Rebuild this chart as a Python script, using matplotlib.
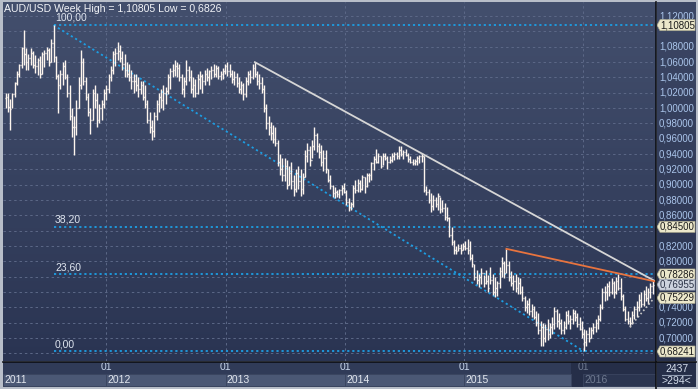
import datetime as dt
import numpy as np
import matplotlib
matplotlib.use("Agg")
import matplotlib.pyplot as plt
import matplotlib.dates as mdates
from matplotlib.colors import LinearSegmentedColormap
from matplotlib.patches import Polygon, Rectangle
from matplotlib.lines import Line2D

plt.rcParams['font.family'] = ['Liberation Sans', 'DejaVu Sans']

# weekly AUD/USD bars, first bar = week of 2011-02-27
start = dt.date(2011, 2, 27)
first_open = 1.013
highs = [
    1.019, 1.020, 1.012, 1.020, 1.034, 1.048, 1.058, 1.080, 1.102, 1.078,   # 0
    1.070, 1.078, 1.075, 1.069, 1.065, 1.068, 1.073, 1.076, 1.080, 1.078,   # 10
    1.090, 1.10805, 1.068, 1.045, 1.050, 1.060, 1.062, 1.045, 1.030, 1.000,  # 20
    0.990, 1.010, 1.040, 1.0752, 1.065, 1.040, 1.020, 1.000, 1.025, 1.030,  # 30
    1.020, 1.005, 1.010, 1.025, 1.030, 1.045, 1.055, 1.075, 1.078, 1.0856,  # 40
    1.082, 1.075, 1.070, 1.060, 1.058, 1.050, 1.045, 1.045, 1.040, 1.035,   # 50
    1.035, 1.030, 1.010, 0.995, 0.985, 0.995, 1.010, 1.020, 1.025, 1.030,   # 60
    1.028, 1.045, 1.052, 1.058, 1.062, 1.060, 1.058, 1.045, 1.040, 1.063,   # 70
    1.055, 1.050, 1.040, 1.038, 1.045, 1.048, 1.045, 1.050, 1.052, 1.050,   # 80
    1.055, 1.058, 1.056, 1.055, 1.048, 1.052, 1.058, 1.060, 1.058, 1.050,   # 90
    1.048, 1.046, 1.040, 1.035, 1.032, 1.040, 1.048, 1.050, 1.058, 1.0598,  # 100
    1.048, 1.045, 1.040, 1.030, 1.005, 0.990, 0.982, 0.978, 0.975, 0.958,   # 110
    0.940, 0.935, 0.935, 0.932, 0.925, 0.930, 0.912, 0.920, 0.925, 0.920,   # 120
    0.915, 0.945, 0.955, 0.950, 0.958, 0.9758, 0.968, 0.955, 0.952, 0.945,  # 130
    0.945, 0.920, 0.913, 0.899, 0.897, 0.893, 0.895, 0.900, 0.902, 0.893,   # 140
    0.882, 0.878, 0.900, 0.906, 0.908, 0.906, 0.913, 0.910, 0.915, 0.915,   # 150
    0.930, 0.937, 0.946, 0.941, 0.937, 0.941, 0.941, 0.937, 0.937, 0.941,   # 160
    0.943, 0.943, 0.950, 0.950, 0.945, 0.947, 0.941, 0.937, 0.934, 0.934,   # 170
    0.937, 0.939, 0.941, 0.937, 0.898, 0.895, 0.889, 0.886, 0.884, 0.889,   # 180
    0.884, 0.880, 0.876, 0.871, 0.858, 0.845, 0.828, 0.820, 0.822, 0.822,   # 190
    0.824, 0.826, 0.829, 0.826, 0.810, 0.797, 0.789, 0.784, 0.791, 0.782,   # 200
    0.789, 0.782, 0.793, 0.784, 0.780, 0.775, 0.792, 0.806, 0.800, 0.8163,  # 210
    0.800, 0.787, 0.782, 0.784, 0.780, 0.778, 0.768, 0.755, 0.750, 0.752,   # 220
    0.745, 0.742, 0.735, 0.732, 0.722, 0.720, 0.718, 0.725, 0.720, 0.728,   # 230
    0.740, 0.738, 0.732, 0.725, 0.722, 0.735, 0.737, 0.730, 0.738, 0.736,   # 240
    0.733, 0.728, 0.722, 0.712, 0.710, 0.715, 0.715, 0.720, 0.725, 0.730,   # 250
    0.745, 0.765, 0.768, 0.772, 0.775, 0.778, 0.775, 0.780, 0.7835, 0.778,  # 260
    0.758, 0.742, 0.735, 0.728, 0.735, 0.742, 0.748, 0.758, 0.760, 0.762,   # 270
    0.768, 0.765, 0.772, 0.774,                                             # 280
]
lows = [
    1.000, 0.995, 0.971, 1.000, 1.015, 1.030, 1.040, 1.052, 1.056, 1.050,
    1.050, 1.056, 1.052, 1.046, 1.043, 1.039, 1.045, 1.054, 1.062, 1.055,
    1.060, 1.060, 1.038, 0.993, 1.025, 1.030, 1.038, 1.015, 0.985, 0.962,
    0.9387, 0.965, 1.000, 1.025, 1.030, 1.010, 0.990, 0.966, 0.985, 1.000,
    0.975, 0.980, 0.985, 1.000, 1.010, 1.020, 1.035, 1.045, 1.055, 1.062,
    1.060, 1.050, 1.040, 1.040, 1.035, 1.025, 1.020, 1.022, 1.015, 1.018,
    1.010, 1.000, 0.980, 0.968, 0.958, 0.962, 0.985, 0.995, 1.000, 0.997,
    1.005, 1.018, 1.025, 1.040, 1.042, 1.040, 1.035, 1.018, 1.015, 1.030,
    1.035, 1.020, 1.015, 1.015, 1.018, 1.025, 1.020, 1.030, 1.035, 1.030,
    1.038, 1.040, 1.040, 1.038, 1.036, 1.038, 1.045, 1.042, 1.040, 1.032,
    1.030, 1.028, 1.020, 1.018, 1.011, 1.015, 1.030, 1.032, 1.038, 1.040,
    1.030, 1.025, 1.020, 0.995, 0.972, 0.965, 0.958, 0.955, 0.950, 0.925,
    0.912, 0.905, 0.905, 0.895, 0.900, 0.895, 0.8848, 0.890, 0.895, 0.885,
    0.888, 0.910, 0.930, 0.925, 0.935, 0.945, 0.942, 0.935, 0.925, 0.918,
    0.915, 0.903, 0.895, 0.884, 0.882, 0.884, 0.882, 0.886, 0.889, 0.873,
    0.866, 0.867, 0.871, 0.889, 0.891, 0.891, 0.893, 0.889, 0.897, 0.904,
    0.906, 0.919, 0.928, 0.928, 0.922, 0.926, 0.932, 0.921, 0.928, 0.930,
    0.932, 0.934, 0.934, 0.937, 0.934, 0.937, 0.930, 0.928, 0.926, 0.926,
    0.926, 0.928, 0.930, 0.891, 0.886, 0.876, 0.865, 0.867, 0.871, 0.867,
    0.863, 0.865, 0.854, 0.852, 0.832, 0.821, 0.810, 0.810, 0.813, 0.810,
    0.815, 0.815, 0.810, 0.802, 0.793, 0.776, 0.771, 0.767, 0.771, 0.767,
    0.771, 0.760, 0.771, 0.756, 0.754, 0.755, 0.765, 0.780, 0.778, 0.785,
    0.775, 0.768, 0.763, 0.760, 0.758, 0.757, 0.748, 0.735, 0.732, 0.730,
    0.728, 0.725, 0.716, 0.705, 0.690, 0.6896, 0.695, 0.698, 0.700, 0.705,
    0.712, 0.715, 0.712, 0.705, 0.705, 0.712, 0.718, 0.712, 0.718, 0.722,
    0.715, 0.710, 0.700, 0.68241, 0.690, 0.695, 0.700, 0.705, 0.708, 0.712,
    0.722, 0.738, 0.748, 0.750, 0.755, 0.758, 0.752, 0.758, 0.762, 0.750,
    0.735, 0.722, 0.718, 0.7145, 0.718, 0.725, 0.728, 0.735, 0.740, 0.742,
    0.748, 0.745, 0.752, 0.758,
]
closes = [
    1.015, 1.001, 0.999, 1.018, 1.033, 1.045, 1.056, 1.078, 1.070, 1.060,
    1.065, 1.072, 1.056, 1.055, 1.062, 1.045, 1.070, 1.072, 1.076, 1.060,
    1.085, 1.066, 1.042, 1.030, 1.045, 1.055, 1.040, 1.020, 0.990, 0.975,
    0.975, 1.000, 1.030, 1.060, 1.035, 1.015, 0.995, 0.985, 1.020, 1.010,
    0.985, 1.000, 1.005, 1.020, 1.025, 1.040, 1.050, 1.070, 1.072, 1.075,
    1.065, 1.058, 1.050, 1.045, 1.040, 1.035, 1.035, 1.030, 1.025, 1.030,
    1.015, 1.005, 0.985, 0.975, 0.970, 0.990, 1.005, 1.015, 1.010, 1.020,
    1.022, 1.040, 1.048, 1.050, 1.055, 1.052, 1.040, 1.025, 1.035, 1.050,
    1.040, 1.025, 1.030, 1.020, 1.038, 1.042, 1.035, 1.045, 1.040, 1.048,
    1.050, 1.045, 1.052, 1.042, 1.045, 1.048, 1.055, 1.048, 1.045, 1.038,
    1.040, 1.032, 1.025, 1.030, 1.018, 1.035, 1.045, 1.040, 1.052, 1.045,
    1.035, 1.032, 1.025, 1.000, 0.980, 0.975, 0.968, 0.960, 0.955, 0.930,
    0.920, 0.912, 0.925, 0.900, 0.915, 0.905, 0.895, 0.915, 0.905, 0.895,
    0.910, 0.938, 0.945, 0.932, 0.950, 0.965, 0.950, 0.942, 0.930, 0.935,
    0.920, 0.906, 0.898, 0.889, 0.890, 0.888, 0.893, 0.896, 0.891, 0.878,
    0.871, 0.875, 0.896, 0.893, 0.902, 0.895, 0.910, 0.898, 0.912, 0.913,
    0.928, 0.934, 0.930, 0.938, 0.925, 0.938, 0.935, 0.930, 0.932, 0.938,
    0.940, 0.937, 0.945, 0.940, 0.942, 0.939, 0.933, 0.930, 0.928, 0.931,
    0.935, 0.937, 0.938, 0.893, 0.890, 0.880, 0.872, 0.880, 0.875, 0.885,
    0.868, 0.870, 0.858, 0.856, 0.835, 0.825, 0.815, 0.813, 0.818, 0.815,
    0.820, 0.818, 0.815, 0.805, 0.797, 0.780, 0.776, 0.780, 0.785, 0.772,
    0.775, 0.765, 0.776, 0.760, 0.765, 0.772, 0.788, 0.798, 0.785, 0.795,
    0.780, 0.772, 0.775, 0.765, 0.772, 0.760, 0.752, 0.740, 0.745, 0.735,
    0.738, 0.728, 0.720, 0.710, 0.715, 0.700, 0.712, 0.705, 0.715, 0.718,
    0.735, 0.722, 0.720, 0.710, 0.715, 0.730, 0.722, 0.725, 0.732, 0.728,
    0.718, 0.712, 0.705, 0.695, 0.705, 0.700, 0.710, 0.715, 0.720, 0.725,
    0.740, 0.760, 0.760, 0.768, 0.760, 0.772, 0.760, 0.775, 0.765, 0.755,
    0.738, 0.725, 0.722, 0.720, 0.730, 0.738, 0.740, 0.750, 0.745, 0.758,
    0.752, 0.760, 0.768, 0.76955,
]

# drawn objects on the chart
fib_ratios = [0.0, 0.236, 0.382, 1.0]
fib_names = ['0,00', '23,60', '38,20', '100,00']
white_line = (109, 0.7735)     # from high of bar 109 to right edge value
orange_line = (219, 0.7735)    # from high of bar 219 to right edge value
dotted_line = (273, 0.7500)    # from low of bar 273 to last bar
dotted_tag = 0.75229
years = [2011, 2012, 2013, 2014, 2015, 2016]
title = 'AUD/USD Week High = 1,10805 Low = 0,6826'

dates = [start + dt.timedelta(weeks=i) for i in range(len(closes))]
x = mdates.date2num(dates)
opens = [first_open] + closes[:-1]

W, H = 698, 389
fig = plt.figure(figsize=(W / 100, H / 100), dpi=100, facecolor='#b8bec9')


def px(l, t, r, b):
    return [l / W, 1 - b / H, (r - l) / W, (b - t) / H]


def gradient(ax, top, bottom):
    cm = LinearSegmentedColormap.from_list('g', [bottom, top])
    g = np.linspace(0, 1, 256).reshape(-1, 1)
    ax.imshow(g, extent=[0, 1, 0, 1], transform=ax.transAxes, aspect='auto',
              cmap=cm, origin='lower', zorder=0)


ylo, yhi = 0.6700, 1.1383
xl = mdates.date2num(dt.date(2011, 2, 19))
xr = mdates.date2num(dt.date(2016, 8, 10))

ax = fig.add_axes(px(3, 2, 656, 361))
gradient(ax, '#434f6d', '#2a3452')
ax.set_xlim(xl, xr)
ax.set_ylim(ylo, yhi)
ax.set_xticks([])
ax.set_yticks([])
for s in ax.spines.values():
    s.set_visible(False)

grid_c = '#5c6887'
for p in np.arange(0.68, 1.1201, 0.02):
    ax.axhline(p, color=grid_c, lw=0.7, ls=(0, (2.5, 3)), zorder=1)
for yr in years[1:]:
    ax.axvline(mdates.date2num(dt.date(yr, 1, 1)), color=grid_c, lw=0.7,
               ls=(0, (2.5, 3)), zorder=1)

# OHLC bars
bar_c = '#fdf5ee'
ax.vlines(x, lows, highs, color=bar_c, lw=1.0, zorder=4)
ax.hlines(opens, x - 2.6, x, color=bar_c, lw=1.0, zorder=4)
ax.hlines(closes, x, x + 2.6, color=bar_c, lw=1.0, zorder=4)

# fibonacci
hi_i = int(np.argmax(highs))
lo_i = int(np.argmin(lows))
hi, lo = highs[hi_i], lows[lo_i]
fib_c = '#1d9ee3'
fib_ls = (0, (1.2, 1.6))
for r, name in zip(fib_ratios, fib_names):
    lev = lo + r * (hi - lo)
    ax.plot([x[hi_i], xr], [lev, lev], color=fib_c, lw=1.3, ls=fib_ls, zorder=3)
    ax.text(x[hi_i] + 4, lev + 0.003, name, color='#dfe5ef', fontsize=7.5,
            va='bottom', ha='left', zorder=5)
ax.plot([x[hi_i], x[lo_i]], [hi, lo], color=fib_c, lw=1.3, ls=fib_ls, zorder=3)

# trend lines
i0, v1 = white_line
ax.plot([x[i0], xr], [highs[i0], v1], color='#d6d6d6', lw=1.3, zorder=5)
i0, v1 = orange_line
ax.plot([x[i0], xr], [highs[i0], v1], color='#e8743f', lw=1.3, zorder=5)
i0, v1 = dotted_line
ax.plot([x[i0], x[-1]], [lows[i0], v1], color='#c8c8c8', lw=1.2,
        ls=(0, (1, 1.5)), zorder=5)

fig.text(4 / W, 1 - 9 / H, title, color='#f2f4f8', fontsize=7.6, va='center')

# right price scale
axr = fig.add_axes(px(657, 2, 696, 361))
gradient(axr, '#3c4765', '#28314d')
axr.set_xlim(0, 39)
axr.set_ylim(ylo, yhi)
axr.axis('off')

tags = [lo + r * (hi - lo) for r in fib_ratios] + [dotted_tag]
all_tags = tags + [closes[-1]]
half = 5.5 / 766.7
for p in np.arange(0.70, 1.1201, 0.02):
    if min(abs(p - t) for t in all_tags) < 1.6 * half:
        continue  # hidden behind a price tag
    axr.text(2, p, f'{p:.5f}'.replace('.', ','), color='#a9c4ea', fontsize=7,
             va='center', ha='left', zorder=2)

for v in tags:
    axr.add_patch(Polygon([(0, v), (3, v + half), (38, v + half), (38, v - half),
                           (3, v - half)], closed=True, fc='#ece8cb',
                          ec='#a9a68c', lw=0.5, zorder=3))
    axr.text(3, v, f'{v:.5f}'.replace('.', ','), color='#1c1c1c',
             fontsize=7, va='center', ha='left', zorder=4)
v = closes[-1]
axr.add_patch(Polygon([(0, v), (3, v + half), (38, v + half), (38, v - half),
                       (3, v - half)], closed=True, fc='#cdd3de', ec='#8d95a5',
                      lw=0.5, zorder=5))
axr.text(3, v, f'{v:.5f}'.replace('.', ','), color='#2a3246', fontsize=7,
         va='center', ha='left', zorder=6)

# bottom date band
axb = fig.add_axes(px(3, 362, 656, 387))
axb.set_xlim(xl, xr)
axb.set_ylim(25, 0)
axb.axis('off')
sel = mdates.date2num(dt.date(2015, 11, 24))
axb.add_patch(Rectangle((xl, 0), sel - xl, 25, fc='#303b58', ec='none'))
axb.add_patch(Rectangle((sel, 0), xr - sel, 25, fc='#252e48', ec='none'))
for k, yr in enumerate(years):
    a = xl if k == 0 else mdates.date2num(dt.date(yr, 1, 1))
    b = xr if k == len(years) - 1 else mdates.date2num(dt.date(yr + 1, 1, 1))
    last = yr == years[-1]
    b = min(b, sel) if yr == 2015 else b
    axb.add_patch(Rectangle((a, 11.5), b - a, 12.5,
                            fc='#2b3550' if last else '#4b5875',
                            ec='#3a4560', lw=0.6))
    axb.text(a + 3, 18, str(yr), color='#6f7a90' if last else '#e4e8f0',
             fontsize=7.5, va='center', ha='left')
    if k > 0:
        axb.text(a, 5.5, '01', color='#6f7a90' if last else '#c8d6ec',
                 fontsize=7.5, va='center', ha='center')

# corner box
axc = fig.add_axes(px(657, 362, 696, 387))
axc.set_xlim(0, 39)
axc.set_ylim(25, 0)
axc.axis('off')
axc.add_patch(Rectangle((0, 0), 39, 25, fc='#252e48', ec='none'))
axc.text(19.5, 6.5, '2437', color='#d4ddeb', fontsize=7.5, ha='center', va='center')
axc.text(19.5, 19, '>294<', color='#d4ddeb', fontsize=7.5, ha='center', va='center')
axc.plot([5, 34], [13, 13], color='#8f9bb0', lw=0.8)

# separators
fig.add_artist(Line2D([656 / W, 656 / W], [0, 1 - 2 / H], color='#0c0e14', lw=1.2))
fig.add_artist(Line2D([3 / W, 696 / W], [1 - 361.5 / H, 1 - 361.5 / H],
                      color='#0c0e14', lw=1.2))

fig.savefig('out.png', dpi=100, facecolor=fig.get_facecolor())
